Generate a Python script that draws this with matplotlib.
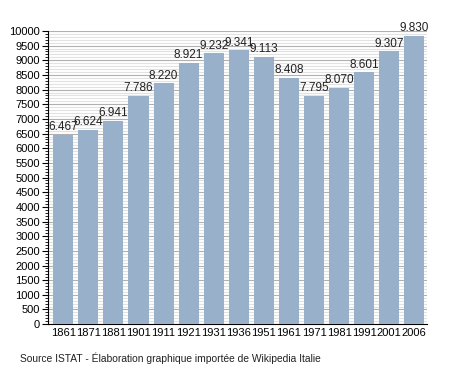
import matplotlib
matplotlib.use('Agg')
import matplotlib.pyplot as plt
from matplotlib.ticker import MultipleLocator

years = ['1861', '1871', '1881', '1901', '1911', '1921', '1931', '1936',
         '1951', '1961', '1971', '1981', '1991', '2001', '2006']
population = [6467, 6624, 6941, 7786, 8220, 8921, 9232, 9341,
              9113, 8408, 7795, 8070, 8601, 9307, 9830]
source_text = 'Source ISTAT - Élaboration graphique importée de Wikipedia Italie'

plt.rcParams['font.family'] = ['Liberation Sans', 'DejaVu Sans']

fig = plt.figure(figsize=(4.55, 3.73), dpi=100)
ax = fig.add_axes([0.106, 0.131, 0.832, 0.786])

x = range(len(years))
ax.bar(x, population, width=0.8, color='#98b0c9', zorder=3)

# value labels above each bar, dotted thousands like the original
for i, v in zip(x, population):
    label = '{:,}'.format(v).replace(',', '.')
    ax.text(i, v + 50, label, ha='center', va='bottom', fontsize=8.5, color='#222222', zorder=4)

ax.set_xlim(-0.6, len(years) - 0.5)
ax.set_ylim(0, 10000)
ax.set_xticks(list(x))
ax.set_xticklabels(years)
ax.yaxis.set_major_locator(MultipleLocator(500))
ax.yaxis.set_minor_locator(MultipleLocator(100))

ax.grid(axis='y', which='major', color='#b0b0b0', linewidth=0.8, zorder=0)
ax.grid(axis='y', which='minor', color='#e2e2e2', linewidth=0.8, zorder=0)

for side in ['top', 'right']:
    ax.spines[side].set_visible(False)
ax.spines['left'].set_linewidth(0.8)
ax.spines['bottom'].set_linewidth(0.8)

ax.tick_params(axis='y', which='major', length=4, width=0.8, labelsize=8, pad=2)
ax.tick_params(axis='y', which='minor', length=2, width=0.6)
ax.tick_params(axis='x', length=0, labelsize=8, pad=3)

fig.text(0.044, 0.030, source_text, fontsize=7.4, color='#222222')

fig.savefig('out.png', dpi=100)
